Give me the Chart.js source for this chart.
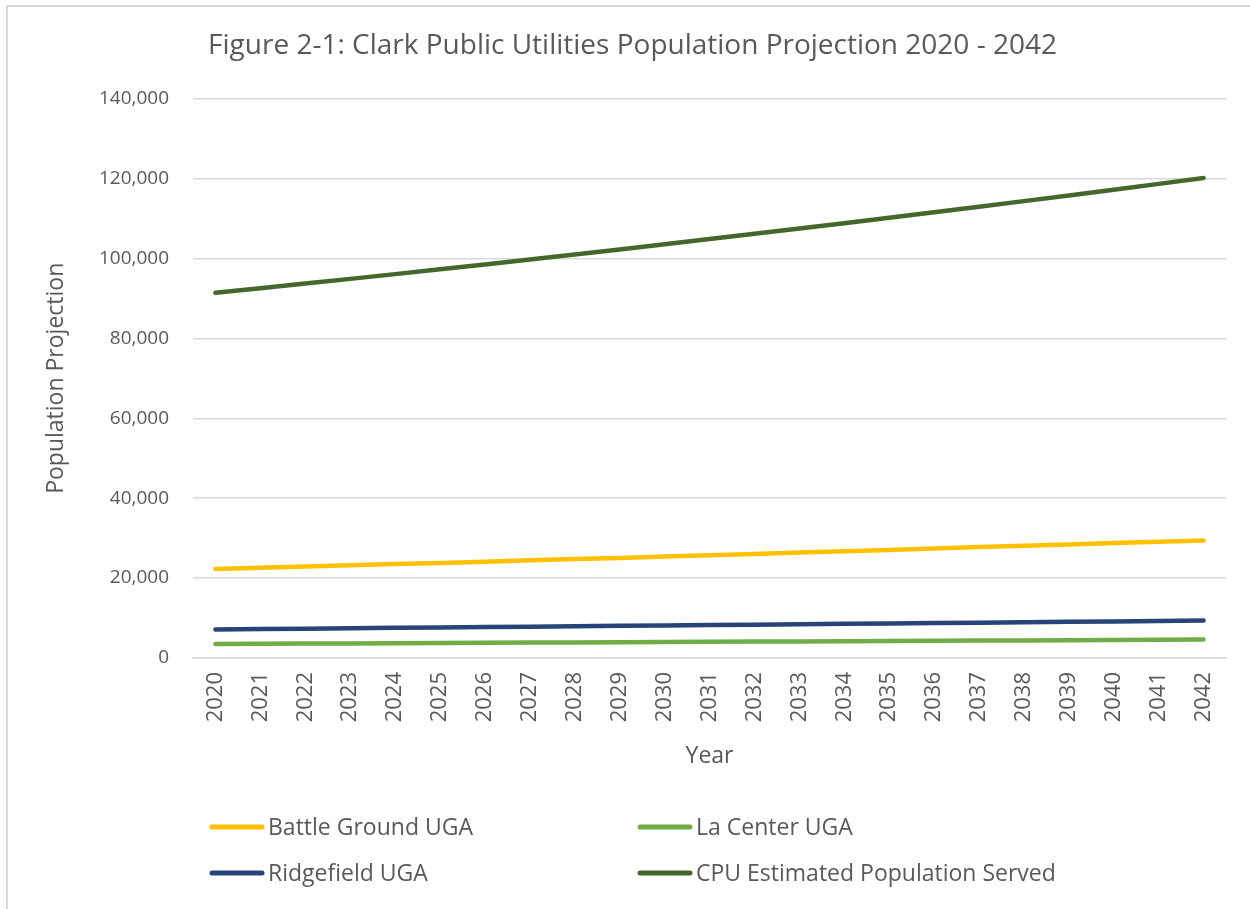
<!DOCTYPE html>
<html>
<head>
<meta charset="utf-8">
<script src="https://cdn.jsdelivr.net/npm/chart.js@4"></script>
<style>
html,body{margin:0;padding:0;background:#fff;}
#wrap{position:relative;width:1250px;height:909px;}
</style>
</head>
<body>
<div id="wrap"><canvas id="c" width="1250" height="909"></canvas></div>
<script>
const years = ['2020','2021','2022','2023','2024','2025','2026','2027','2028','2029','2030','2031','2032','2033','2034','2035','2036','2037','2038','2039','2040','2041','2042'];
const battleGround = [22300,22600,22900,23200,23500,23800,24100,24450,24750,25050,25400,25700,26050,26400,26700,27050,27400,27750,28100,28400,28750,29100,29400];
const laCenter = [3500,3550,3600,3650,3700,3750,3800,3850,3900,3950,4000,4050,4100,4150,4200,4250,4300,4350,4400,4450,4500,4575,4650];
const ridgefield = [7150,7250,7350,7450,7550,7650,7750,7850,7950,8050,8150,8250,8350,8450,8550,8650,8750,8850,8950,9050,9150,9250,9400];
const cpuServed = [91400,92550,93700,94880,96070,97280,98500,99740,100990,102260,103540,104840,106150,107480,108820,110180,111550,112940,114340,115760,117200,118660,120150];
const seriesNames = ['Battle Ground UGA','La Center UGA','Ridgefield UGA','CPU Estimated Population Served'];
const seriesColors = ['#FFC000','#70AD47','#264478','#43682B'];
const titleText = 'Figure 2-1: Clark Public Utilities Population Projection 2020 - 2042';

const FONT = "'Open Sans', sans-serif";
const TXT = '#595959';

const legendPlugin = {
  id: 'customLegend',
  afterDraw(chart) {
    const ctx = chart.ctx;
    const pos = [[210, 827], [638, 827], [210, 873], [638, 873]];
    ctx.save();
    chart.data.datasets.forEach((ds, i) => {
      const [x, y] = pos[i];
      ctx.strokeStyle = ds.borderColor;
      ctx.lineWidth = 5;
      ctx.lineCap = 'round';
      ctx.beginPath();
      ctx.moveTo(x + 2, y);
      ctx.lineTo(x + 52, y);
      ctx.stroke();
      ctx.fillStyle = TXT;
      ctx.font = "23px " + FONT;
      ctx.textBaseline = 'middle';
      ctx.textAlign = 'left';
      ctx.fillText(ds.label, x + 58, y + 1);
    });
    ctx.restore();
  }
};

const borderPlugin = {
  id: 'frame',
  beforeDraw(chart) {
    const ctx = chart.ctx;
    ctx.save();
    ctx.fillStyle = '#fff';
    ctx.fillRect(0, 0, chart.width, chart.height);
    ctx.fillStyle = '#d9d9d9';
    ctx.fillRect(6, 5, chart.width - 6, 2);
    ctx.fillRect(6, 5, 2, chart.height - 5);
    ctx.restore();
  }
};

const datasets = [battleGround, laCenter, ridgefield, cpuServed].map((d, i) => ({
  label: seriesNames[i],
  data: d,
  borderColor: seriesColors[i],
  backgroundColor: seriesColors[i],
  borderWidth: 4.5,
  borderCapStyle: 'round',
  pointRadius: 0,
  tension: 0,
  fill: false
}));

new Chart(document.getElementById('c'), {
  type: 'line',
  data: { labels: years, datasets },
  options: {
    responsive: false,
    animation: false,
    devicePixelRatio: 1,
    layout: { padding: { left: 39, right: 24, top: 0, bottom: 135 } },
    plugins: {
      legend: { display: false },
      tooltip: { enabled: false },
      title: {
        display: true,
        text: titleText,
        color: TXT,
        font: { family: FONT, size: 28, weight: 'normal' },
        padding: { top: 29, bottom: 36 }
      }
    },
    scales: {
      x: {
        offset: true,
        grid: { display: false, drawTicks: false },
        border: { display: true, color: '#d9d9d9', width: 1.5 },
        ticks: { color: TXT, font: { family: FONT, size: 22 }, maxRotation: 90, minRotation: 90, padding: 14, autoSkip: false },
        title: { display: true, text: 'Year', color: TXT, font: { family: FONT, size: 23 }, padding: { top: 4, bottom: 4 } },
        afterFit(scale) { scale.height = 116; }
      },
      y: {
        min: 0, max: 140000,
        grid: { color: '#d9d9d9', lineWidth: 1.5, drawTicks: false },
        border: { display: false },
        ticks: { stepSize: 20000, color: TXT, font: { family: FONT, size: 19 }, padding: 24,
          callback: v => v.toLocaleString('en-US') },
        title: { display: true, text: 'Population Projection', color: TXT, font: { family: FONT, size: 23 }, padding: { top: 4, bottom: 4 } },
        afterFit(scale) { scale.width = 154; }
      }
    }
  },
  plugins: [borderPlugin, legendPlugin]
});
</script>
</body>
</html>
